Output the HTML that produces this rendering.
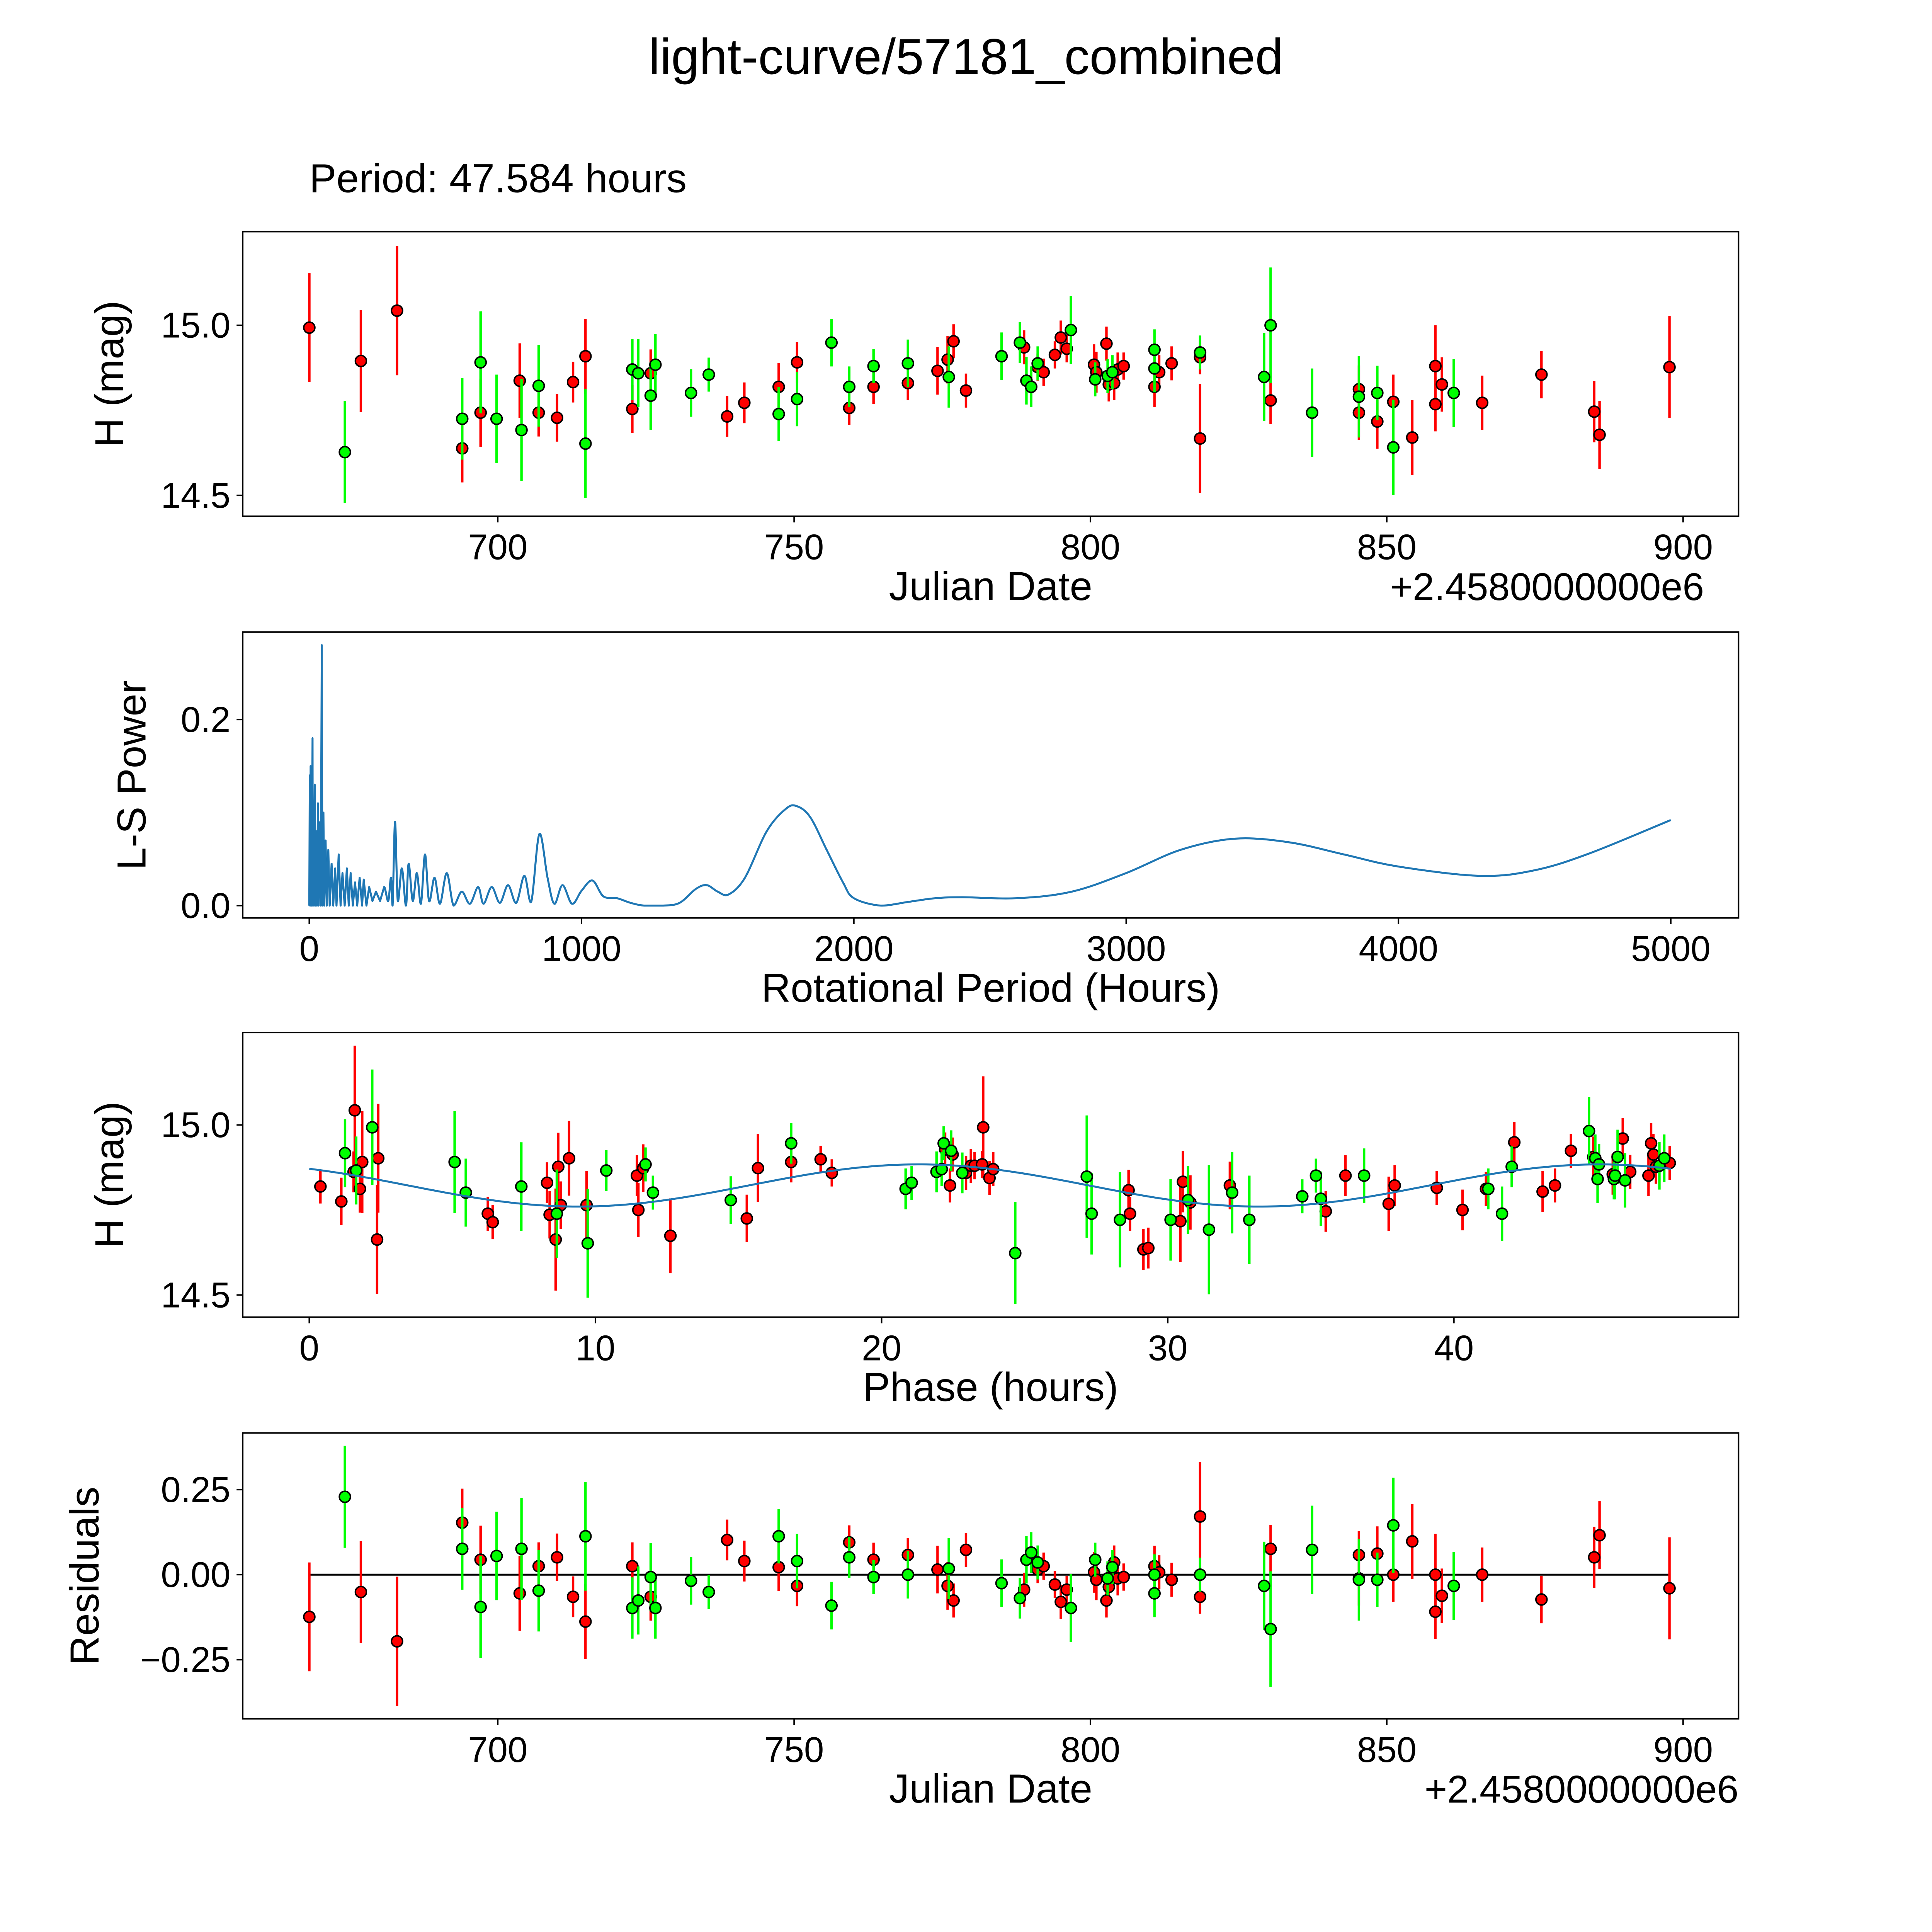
<!DOCTYPE html>
<html><head><meta charset="utf-8"><style>
html,body{margin:0;padding:0;background:#fff;overflow:hidden;width:100%;height:100%}
svg{display:block;width:100vw;height:100vh}
text{font-family:"Liberation Sans","DejaVu Sans",sans-serif;fill:#000}
</style></head><body>
<svg id="fig" xmlns="http://www.w3.org/2000/svg" viewBox="0 0 1568 1568" preserveAspectRatio="none">
<rect x="0" y="0" width="1568" height="1568" fill="#fff"/>
<text x="784" y="60" font-size="41" text-anchor="middle">light-curve/57181_combined</text>
<text x="251" y="156" font-size="33">Period: 47.584 hours</text>
<g id="g1"></g>
<g id="g2"></g>
<g id="g3"></g>
<g id="g4"></g>
</svg>
<script>
// ---- data: light curve (red filter) ----
const redDate=[668.2,676.9,683.0,694.0,697.1,703.7,706.9,710.0,712.7,714.8,722.7,725.8,738.7,741.6,747.4,750.5,759.3,763.4,769.2,774.2,775.9,776.9,779.0,788.8,791.1,792.1,794.0,795.0,796.0,800.6,801.0,802.7,803.1,804.0,804.6,805.6,810.8,811.6,813.7,818.5,818.5,830.4,845.3,845.3,848.4,851.1,854.3,858.2,858.2,859.3,866.1,876.1,885.0,885.9,897.7];
const redMag=[14.993,14.895,15.043,14.638,14.743,14.837,14.743,14.728,14.833,14.909,14.754,14.859,14.732,14.772,14.819,14.891,14.757,14.819,14.830,14.866,14.899,14.953,14.808,14.935,14.877,14.862,14.913,14.964,14.931,14.884,14.862,14.946,14.826,14.830,14.870,14.880,14.819,14.862,14.888,14.906,14.667,14.779,14.812,14.743,14.717,14.775,14.670,14.880,14.768,14.826,14.772,14.855,14.746,14.678,14.877];
const redErr=[0.16,0.15,0.19,0.1,0.1,0.11,0.07,0.07,0.06,0.11,0.07,0.07,0.06,0.06,0.07,0.06,0.05,0.05,0.05,0.07,0.07,0.05,0.05,0.05,0.04,0.04,0.04,0.05,0.04,0.06,0.06,0.05,0.05,0.05,0.05,0.04,0.06,0.05,0.05,0.05,0.16,0.07,0.07,0.08,0.08,0.08,0.11,0.12,0.08,0.08,0.08,0.07,0.09,0.1,0.15];
const redResid=[-0.124,-0.051,-0.196,0.153,0.044,-0.055,0.025,0.051,-0.065,-0.138,0.025,-0.065,0.102,0.040,0.022,-0.033,0.095,0.044,0.058,0.015,-0.033,-0.076,0.073,-0.044,0.015,0.025,-0.029,-0.080,-0.044,0.007,-0.015,-0.076,-0.036,0.036,-0.011,-0.007,0.025,0.007,-0.015,-0.065,0.171,0.076,0.058,-0.011,0.062,0.0,0.098,0.0,-0.109,-0.062,0.0,-0.073,0.051,0.116,-0.040];
// ---- data: light curve (green filter) ----
const grnDate=[674.2,694.0,697.1,699.8,704.0,706.9,714.8,722.7,723.7,725.8,726.6,732.6,735.6,747.4,750.5,756.3,759.3,763.4,769.2,776.1,785.0,788.1,789.2,790.0,791.1,796.7,800.8,802.9,803.7,810.8,810.8,818.5,829.3,830.4,837.4,845.3,848.4,851.1,861.3];
const grnMag=[14.627,14.725,14.891,14.725,14.692,14.822,14.652,14.870,14.859,14.793,14.884,14.801,14.855,14.739,14.783,14.949,14.819,14.880,14.888,14.848,14.909,14.949,14.837,14.819,14.888,14.986,14.841,14.851,14.862,14.873,14.928,14.920,14.848,15.0,14.743,14.790,14.801,14.641,14.801];
const grnErr=[0.15,0.12,0.15,0.13,0.15,0.12,0.16,0.09,0.1,0.1,0.09,0.07,0.05,0.08,0.08,0.07,0.06,0.05,0.07,0.09,0.07,0.06,0.07,0.06,0.05,0.1,0.05,0.05,0.05,0.07,0.06,0.05,0.13,0.17,0.13,0.12,0.08,0.14,0.1];
const grnResid=[0.229,0.076,-0.095,0.055,0.076,-0.047,0.113,-0.098,-0.076,-0.007,-0.098,-0.018,-0.051,0.113,0.040,-0.091,0.051,-0.007,0.0,0.018,-0.025,-0.069,0.044,0.065,0.036,-0.098,0.044,-0.011,0.022,-0.055,0.0,0.0,-0.033,-0.160,0.073,-0.015,-0.015,0.145,-0.033];
// ---- data: phase folded ----
const redPhase=[0.39,1.12,1.55,1.59,1.77,1.85,2.37,2.41,6.24,6.41,8.31,8.40,8.61,8.70,8.79,9.08,9.69,11.45,11.50,11.67,12.62,15.29,15.68,16.84,17.87,18.26,22.22,22.39,22.48,22.95,23.12,23.25,23.51,23.55,23.77,23.90,28.63,28.68,29.15,29.32,30.44,30.53,30.79,32.17,35.52,36.21,37.72,37.93,39.40,40.30,41.12,42.11,43.10,43.53,44.09,44.87,45.55,45.90,46.16,46.80,46.89,46.97,47.06,47.54];
const redPhaseMag=[14.819,14.775,14.862,15.043,14.812,14.891,14.663,14.902,14.739,14.714,14.830,14.736,14.663,14.877,14.764,14.902,14.764,14.851,14.750,14.873,14.674,14.725,14.873,14.891,14.899,14.859,14.928,14.822,14.913,14.859,14.880,14.880,14.884,14.993,14.844,14.870,14.808,14.739,14.634,14.638,14.717,14.833,14.772,14.822,14.746,14.851,14.768,14.822,14.815,14.750,14.812,14.949,14.804,14.822,14.924,14.906,14.855,14.960,14.862,14.851,14.946,14.913,14.877,14.888];
const redPhaseErr=[0.05,0.07,0.06,0.19,0.07,0.15,0.16,0.16,0.05,0.05,0.06,0.07,0.15,0.1,0.07,0.11,0.1,0.06,0.08,0.07,0.11,0.07,0.1,0.06,0.04,0.04,0.05,0.05,0.05,0.05,0.05,0.04,0.04,0.15,0.05,0.05,0.06,0.05,0.06,0.06,0.12,0.09,0.08,0.07,0.06,0.06,0.08,0.06,0.05,0.06,0.05,0.06,0.06,0.05,0.05,0.06,0.06,0.06,0.05,0.06,0.06,0.06,0.05,0.05];
const grnPhase=[1.25,1.64,2.20,5.08,5.47,7.41,8.65,9.73,10.38,11.75,12.01,14.73,16.84,20.84,21.05,21.92,22.10,22.17,22.43,22.82,24.67,27.17,27.34,28.33,30.10,30.71,31.44,32.25,32.85,34.70,35.18,35.35,36.86,41.20,41.68,42.02,44.72,44.94,45.02,45.07,45.59,45.63,45.72,45.98,47.18,47.35];
const grnPhaseMag=[14.917,14.866,14.993,14.891,14.801,14.819,14.739,14.652,14.866,14.884,14.801,14.779,14.946,14.812,14.830,14.862,14.870,14.946,14.924,14.859,14.623,14.848,14.739,14.721,14.721,14.779,14.692,14.801,14.721,14.790,14.851,14.783,14.851,14.812,14.739,14.877,14.982,14.902,14.841,14.884,14.841,14.851,14.906,14.837,14.880,14.902];
const grnPhaseErr=[0.1,0.1,0.17,0.15,0.1,0.13,0.13,0.16,0.06,0.05,0.05,0.07,0.06,0.06,0.05,0.06,0.05,0.05,0.06,0.06,0.15,0.18,0.12,0.14,0.12,0.1,0.19,0.12,0.13,0.05,0.05,0.08,0.08,0.06,0.08,0.06,0.1,0.07,0.07,0.06,0.06,0.07,0.08,0.08,0.07,0.07];
// ---- model (double-peaked fit) ----
const modelParams=[14.822,0.062,21.3,47.584]; // mean, amplitude, peak phase, period
// ---- periodogram ----
const lsPeriod=[0,2,3,5,6,8,9,12,13,16,17,20,22,26,28,32,34,40,42,46,48,52,55,60,64,70,75,82,88,95,100,108,115,122,130,138,145,152,160,168,176,185,194,200,210,220,232,245,260,275,290,300,306,315,325,340,355,365,380,395,410,425,440,460,480,505,530,560,590,620,640,670,700,730,760,790,815,845,875,900,930,965,1000,1040,1080,1130,1180,1230,1300,1360,1420,1460,1500,1540,1600,1680,1750,1790,1840,1900,1960,2000,2100,2200,2300,2400,2600,2800,3000,3200,3400,3600,3800,4000,4300,4500,4700,5000];
const lsPower=[0,0.14,0,0.15,0,0.12,0,0.18,0,0.10,0,0.13,0,0.08,0,0.11,0,0.09,0,0.28,0,0.1,0,0.07,0,0.06,0,0.045,0,0.04,0,0.055,0,0.035,0,0.04,0,0.035,0,0.025,0,0.03,0,0.028,0,0.02,0.005,0.015,0.005,0.02,0.005,0.03,0.0,0.09,0.005,0.04,0.0,0.045,0.005,0.035,0.002,0.055,0.005,0.03,0.002,0.035,0.0,0.015,0.002,0.02,0.002,0.02,0.003,0.022,0.003,0.032,0.004,0.077,0.03,0.002,0.022,0.002,0.016,0.027,0.01,0.008,0.003,0.0,0.0,0.003,0.018,0.022,0.015,0.012,0.03,0.08,0.104,0.107,0.095,0.06,0.025,0.008,0.0,0.004,0.008,0.009,0.008,0.015,0.035,0.06,0.072,0.068,0.055,0.042,0.032,0.038,0.056,0.092];
// ---- tick labels ----
const jdTicks=[700,750,800,850,900];
const magTicks=[14.5,15.0];
const lsXTicks=[0,1000,2000,3000,4000,5000];
const lsYTicks=[0.0,0.2];
const phaseTicks=[0,10,20,30,40];
const residTicks=[-0.25,0,0.25];

const NS='http://www.w3.org/2000/svg';
function mk(parent,tag,attrs){const e=document.createElementNS(NS,tag);for(const k in attrs)e.setAttribute(k,attrs[k]);parent.appendChild(e);return e;}
function lin(d0,d1,r0,r1){return v=>r0+(v-d0)*(r1-r0)/(d1-d0);}
const L=197,R=1411;
function frame(g,top,bot,xs,xt,xfmt,ys,yt,yfmt,xlabel,ylabel,ylx){
  for(const t of xt){const x=xs(t);
    const tk=mk(g,'line',{x1:x,x2:x,y1:bot,y2:bot+5,stroke:'#000','stroke-width':1.2});
    
    
    const tl=mk(g,'text',{x:x,y:bot+35,'font-size':29,'text-anchor':'middle'});tl.textContent=xfmt(t);
    
    }
  for(const t of yt){const y=ys(t);
    const tk=mk(g,'line',{x1:L-5,x2:L,y1:y,y2:y,stroke:'#000','stroke-width':1.2});
    
    
    const tl=mk(g,'text',{x:L-10,y:y+10,'font-size':29,'text-anchor':'end'});tl.textContent=yfmt(t);
    
    }
  const xl=mk(g,'text',{x:(L+R)/2,y:bot+68,'font-size':33,'text-anchor':'middle'});xl.textContent=xlabel;
  
  
  const cy=(top+bot)/2;
  const yl=mk(g,'text',{x:ylx,y:cy,'font-size':33,'text-anchor':'middle',transform:`rotate(-90 ${ylx} ${cy})`});yl.textContent=ylabel;
  
  
}
function border(g,top,bot){const b=mk(g,'rect',{x:L,y:top,width:R-L,height:bot-top,fill:'none',stroke:'#000','stroke-width':1.2});
  
  }
function points(g,xs,ys,X,Y,E,col,name){
  for(let i=0;i<X.length;i++){const x=xs(X[i]);
    const l=mk(g,'line',{x1:x,x2:x,y1:ys(Y[i]-E[i]),y2:ys(Y[i]+E[i]),stroke:col,'stroke-width':2});
    
    }
  for(let i=0;i<X.length;i++){
    const c=mk(g,'circle',{cx:xs(X[i]),cy:ys(Y[i]),r:4.5,fill:col,stroke:'#000','stroke-width':1.2});
    
    }
}
const jdFmt=t=>String(t);
// Panel 1
(function(){const g=document.getElementById('g1');const top=188,bot=419;
  const xs=lin(700,900,404,1366), ys=lin(15.0,14.5,264,402);
  frame(g,top,bot,xs,jdTicks,jdFmt,ys,magTicks,t=>t.toFixed(1),'Julian Date','H (mag)',100);
  const off=mk(g,'text',{x:1383,y:bot+68,'font-size':31.5,'text-anchor':'end'});off.textContent='+2.4580000000e6';
  
  
  points(g,xs,ys,redDate,redMag,redErr,'#ff0000','red-filter');
  points(g,xs,ys,grnDate,grnMag,grnErr,'#00ff00','green-filter');
  border(g,top,bot);})();
// Panel 2
(function(){const g=document.getElementById('g2');const top=513,bot=745;
  const xs=lin(0,5000,251,1356), ys=lin(0,0.2,735,584);
  frame(g,top,bot,xs,lsXTicks,t=>String(t),ys,lsYTicks,t=>t.toFixed(1),'Rotational Period (Hours)','L-S Power',118);
  const px=lsPeriod.map(xs), py=lsPower.map(ys);const y0=ys(0);
  let d='M'+px[0].toFixed(2)+' '+py[0].toFixed(2);
  for(let i=1;i<px.length;i++){
    if(lsPeriod[i]<=280){d+='L'+px[i].toFixed(2)+' '+py[i].toFixed(2);continue;}
    const p0=i>1?i-2:i-1, p3=i+1<px.length?i+1:i;
    let c1y=py[i-1]+(py[i]-py[p0])/6, c2y=py[i]-(py[p3]-py[i-1])/6;
    c1y=Math.min(c1y,y0);c2y=Math.min(c2y,y0);
    d+='C'+(px[i-1]+(px[i]-px[p0])/6).toFixed(2)+' '+c1y.toFixed(2)+' '+(px[i]-(px[p3]-px[i-1])/6).toFixed(2)+' '+c2y.toFixed(2)+' '+px[i].toFixed(2)+' '+py[i].toFixed(2);
  }
  const p=mk(g,'path',{d:d,fill:'none',stroke:'#1f77b4','stroke-width':1.6,'stroke-linejoin':'round'});
  
  
  border(g,top,bot);})();
// Panel 3
(function(){const g=document.getElementById('g3');const top=838,bot=1069;
  const xs=lin(0,40,251,1180), ys=lin(15.0,14.5,913,1051);
  frame(g,top,bot,xs,phaseTicks,t=>String(t),ys,magTicks,t=>t.toFixed(1),'Phase (hours)','H (mag)',100);
  points(g,xs,ys,redPhase,redPhaseMag,redPhaseErr,'#ff0000','red-phased');
  points(g,xs,ys,grnPhase,grnPhaseMag,grnPhaseErr,'#00ff00','green-phased');
  const [m,a,pk,P]=modelParams;let d='';
  for(let i=0;i<=300;i++){const ph=P*i/300;const v=m+a*Math.cos(4*Math.PI*(ph-pk)/P);d+=(i?'L':'M')+xs(ph).toFixed(2)+' '+ys(v).toFixed(2);}
  const c=mk(g,'path',{d:d,fill:'none',stroke:'#1f77b4','stroke-width':1.6});
  
  
  border(g,top,bot);})();
// Panel 4
(function(){const g=document.getElementById('g4');const top=1163,bot=1395;
  const xs=lin(700,900,404,1366), ys=lin(0,0.25,1278,1209);
  frame(g,top,bot,xs,jdTicks,jdFmt,ys,residTicks,t=>(t<0?'\u2212':'')+Math.abs(t).toFixed(2),'Julian Date','Residuals',80);
  const off=mk(g,'text',{x:1411,y:bot+68,'font-size':31.5,'text-anchor':'end'});off.textContent='+2.4580000000e6';
  
  
  const z=mk(g,'line',{x1:xs(668.2),x2:xs(897.7),y1:ys(0),y2:ys(0),stroke:'#000','stroke-width':1.6});
  
  
  points(g,xs,ys,redDate,redResid,redErr,'#ff0000','red-residual');
  points(g,xs,ys,grnDate,grnResid,grnErr,'#00ff00','green-residual');
  border(g,top,bot);})();
</script>
</body></html>
